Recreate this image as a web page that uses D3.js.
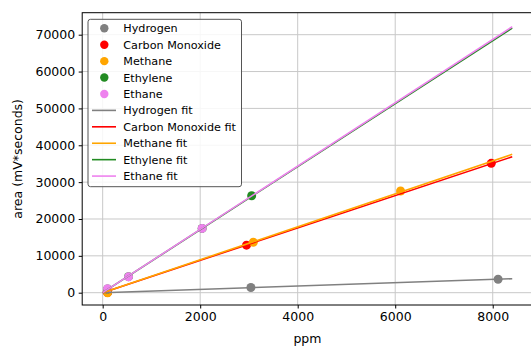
<!DOCTYPE html>
<html>
<head>
<meta charset="utf-8">
<script src="https://cdn.jsdelivr.net/npm/d3@7"></script>
<style>
  body { margin: 0; background: #fff; }
  text { font-family: "DejaVu Sans", sans-serif; fill: #000; }
</style>
</head>
<body>
<div id="chart"></div>
<script>
// calibration data
var gases = ["Hydrogen", "Carbon Monoxide", "Methane", "Ethylene", "Ethane"];
var colors = ["#808080", "#ff0000", "#ffa500", "#228b22", "#ee82ee"];

var hydrogenPpm = [100, 3040, 8110];
var hydrogenArea = [50, 1400, 3650];
var coPpm = [100, 2950, 7970];
var coArea = [100, 12900, 35100];
var methanePpm = [100, 3090, 6110];
var methaneArea = [0, 13700, 27600];
var ethylenePpm = [100, 530, 2040, 3056];
var ethyleneArea = [1000, 4350, 17450, 26300];
var ethanePpm = [100, 530, 2040];
var ethaneArea = [1100, 4300, 17450];

// fitted slopes (area per ppm), lines drawn from 0 to 8400 ppm
var fitSlopes = [0.452, 4.39, 4.47, 8.55, 8.59];
var fitRange = [0, 8400];

var xTicks = [0, 2000, 4000, 6000, 8000];
var yTicks = [0, 10000, 20000, 30000, 40000, 50000, 60000, 70000];

var W = 531, H = 348;
// plot box (right edge falls just outside the picture)
var pLeft = 82.2, pRight = 532.7, pTop = 12.7, pBottom = 305;

var svg = d3.select("#chart").append("svg")
  .attr("width", W)
  .attr("height", H);

var x = d3.scaleLinear().domain([-420, 8820]).range([pLeft, pRight]);
var y = d3.scaleLinear().domain([-3337, 75969]).range([pBottom, pTop]);

// grid
svg.append("g").selectAll("line").data(xTicks).enter().append("line")
  .attr("x1", d => x(d)).attr("x2", d => x(d))
  .attr("y1", pTop).attr("y2", pBottom)
  .style("stroke", "#c8c8c8").style("stroke-width", 1);
svg.append("g").selectAll("line").data(yTicks).enter().append("line")
  .attr("x1", pLeft).attr("x2", pRight)
  .attr("y1", d => y(d)).attr("y2", d => y(d))
  .style("stroke", "#c8c8c8").style("stroke-width", 1);

// axes
var fmt = d3.format("d");
var xAxis = d3.axisBottom(x).tickValues(xTicks).tickFormat(fmt).tickSize(3.5).tickPadding(3.5);
var yAxis = d3.axisLeft(y).tickValues(yTicks).tickFormat(fmt).tickSize(3.5).tickPadding(3.5);
var gx = svg.append("g").attr("transform", "translate(0," + pBottom + ")").call(xAxis);
var gy = svg.append("g").attr("transform", "translate(" + pLeft + ",0)").call(yAxis);
[gx, gy].forEach(function (g) {
  g.select(".domain").remove();
  g.selectAll("text").style("font-size", "12.5px").style("font-family", "DejaVu Sans");
  g.selectAll("line").style("stroke", "#000");
});

// frame
svg.append("rect")
  .attr("x", pLeft).attr("y", pTop)
  .attr("width", pRight - pLeft).attr("height", pBottom - pTop)
  .style("fill", "none").style("stroke", "#000").style("stroke-width", 1);

// points
var series = [
  [hydrogenPpm, hydrogenArea],
  [coPpm, coArea],
  [methanePpm, methaneArea],
  [ethylenePpm, ethyleneArea],
  [ethanePpm, ethaneArea]
];
var plot = svg.append("g");
series.forEach(function (s, i) {
  plot.selectAll(null).data(s[0]).enter().append("circle")
    .attr("cx", d => x(d))
    .attr("cy", (d, j) => y(s[1][j]))
    .attr("r", 4.5)
    .style("fill", colors[i]);
});

// fit lines
var line = d3.line().x(d => x(d[0])).y(d => y(d[1]));
fitSlopes.forEach(function (m, i) {
  plot.append("path")
    .attr("d", line(fitRange.map(v => [v, m * v])))
    .style("fill", "none")
    .style("stroke", colors[i])
    .style("stroke-width", 1.6);
});

// legend
var lg = svg.append("g");
lg.append("rect")
  .attr("x", 88).attr("y", 19.3)
  .attr("width", 153.5).attr("height", 167.4)
  .attr("rx", 2.5)
  .style("fill", "#fff").style("fill-opacity", 0.85)
  .style("stroke", "#555").style("stroke-width", 1);
var rowY = d => 28.3 + d * 16.42;
gases.forEach(function (g, i) {
  lg.append("circle").attr("cx", 104.3).attr("cy", rowY(i)).attr("r", 4.2).style("fill", colors[i]);
  lg.append("text").attr("x", 123.3).attr("y", rowY(i) + 4).style("font-size", "11.2px").text(g);
});
gases.forEach(function (g, i) {
  var k = i + 5;
  lg.append("line").attr("x1", 92).attr("x2", 116).attr("y1", rowY(k)).attr("y2", rowY(k))
    .style("stroke", colors[i]).style("stroke-width", 1.6);
  lg.append("text").attr("x", 123.3).attr("y", rowY(k) + 4).style("font-size", "11.2px").text(g + " fit");
});

// axis labels
svg.append("text")
  .attr("x", (pLeft + pRight) / 2).attr("y", 342.5)
  .attr("text-anchor", "middle").style("font-size", "12.5px").text("ppm");
svg.append("text")
  .attr("transform", "translate(22," + ((pTop + pBottom) / 2) + ") rotate(-90)")
  .attr("text-anchor", "middle").style("font-size", "12.5px").text("area (mV*seconds)");
</script>
</body>
</html>
